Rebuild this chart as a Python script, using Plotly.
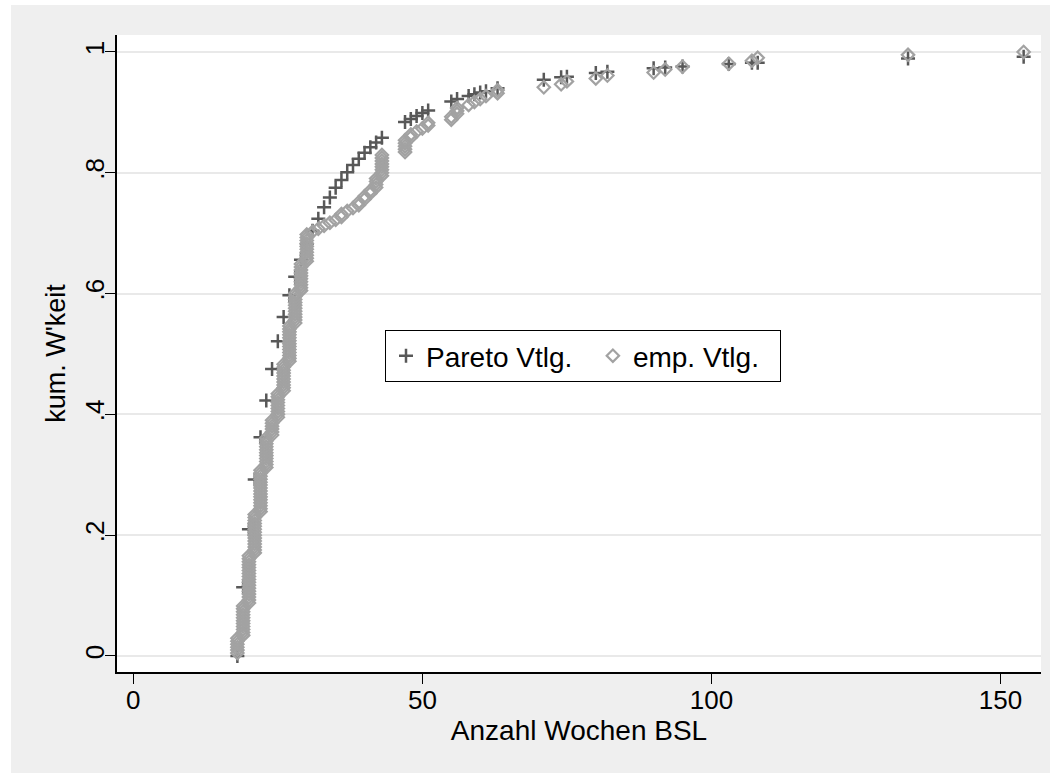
import numpy as np
import plotly.graph_objects as go

# distinct observed durations (weeks)
weeks = [18, 19, 20, 21, 22, 23, 24, 25, 26, 27, 28, 29, 30, 31, 32, 33, 34, 35, 36,
         37, 38, 39, 40, 41, 42, 43, 47, 48, 49, 50, 51, 55, 56, 58, 59, 60, 61, 63,
         71, 74, 75, 80, 82, 90, 92, 95, 103, 107, 108, 134, 154]
# number of observations at each duration
counts = [6, 11, 17, 14, 15, 11, 6, 9, 10, 13, 11, 10, 10, 1, 1, 1, 1, 1, 2,
          1, 1, 2, 2, 2, 4, 8, 5, 2, 1, 1, 2, 2, 3, 1, 1, 1, 1, 2,
          1, 1, 1, 1, 1, 1, 1, 1, 1, 1, 1, 1, 1]
# fitted Pareto cumulative probability at each duration
pareto_cdf = [0.0, 0.114, 0.210, 0.292, 0.362, 0.423, 0.475, 0.521, 0.561, 0.597,
              0.628, 0.656, 0.682, 0.704, 0.724, 0.743, 0.759, 0.775, 0.788, 0.801,
              0.813, 0.823, 0.833, 0.842, 0.850, 0.858, 0.884, 0.889, 0.894, 0.899,
              0.903, 0.918, 0.922, 0.927, 0.930, 0.933, 0.935, 0.940, 0.954, 0.958,
              0.959, 0.965, 0.967, 0.973, 0.974, 0.976, 0.980, 0.982, 0.982, 0.989,
              0.992]

series_names = ["Pareto Vtlg.", "emp. Vtlg."]
y_ticks = [0, 0.2, 0.4, 0.6, 0.8, 1]
y_ticktext = ["0", ".2", ".4", ".6", ".8", "1"]
x_ticks = [0, 50, 100, 150]

# empirical distribution: one point per observation
obs = np.repeat(weeks, counts)
n = len(obs)
emp = np.arange(1, n + 1) / n

FONT = "Liberation Sans, Arial, sans-serif"
NB = "\u00a0"
W, H = 1050, 773
L, R, T, B = 117, 9, 35, 101
pw, ph = W - L - R, H - T - B

fig = go.Figure()
fig.add_trace(go.Scatter(
    x=weeks, y=pareto_cdf, mode="markers", name=series_names[0] + NB * 2,
    marker=dict(symbol="cross-thin", size=10, color="#585858",
                line=dict(color="#585858", width=2.5)),
))
fig.add_trace(go.Scatter(
    x=obs, y=emp, mode="markers", name=series_names[1] + NB * 2,
    marker=dict(symbol="diamond-open", size=9.5, color="#a2a2a2",
                line=dict(color="#a2a2a2", width=2.2)),
))

fig.update_layout(
    width=W, height=H,
    margin=dict(l=L, r=R, t=T, b=B, pad=0),
    paper_bgcolor="#efefef",
    plot_bgcolor="#ffffff",
    font=dict(family=FONT, size=26, color="#000000"),
    showlegend=True,
    legend=dict(
        orientation="h", x=(385 - L) / pw, y=(H - B - 330) / ph,
        xanchor="left", yanchor="top",
        bgcolor="#ffffff", bordercolor="#000000", borderwidth=1,
        font=dict(family=FONT, size=28, color="#000000"),
        itemsizing="trace",
    ),
    xaxis=dict(
        range=[-2.82, 157.0], tickvals=x_ticks, ticks="outside", ticklen=10,
        tickwidth=1, tickcolor="#000000", showline=True, linecolor="#000000",
        linewidth=1.5, showgrid=False, zeroline=False, ticklabelstandoff=-6,
        title=dict(text="Anzahl Wochen BSL", standoff=0,
                   font=dict(family=FONT, size=28)),
        tickfont=dict(family=FONT, size=26),
    ),
    yaxis=dict(
        range=[-0.0265, 1.028], tickvals=y_ticks, ticktext=y_ticktext,
        ticks="outside", ticklen=10, tickwidth=1, tickcolor="#000000",
        tickangle=-90, showline=True, linecolor="#000000", linewidth=1.5,
        showgrid=True, gridcolor="#e9e9e9", gridwidth=2, zeroline=False,
        ticklabelstandoff=-9,
        title=dict(text="kum. W'keit", standoff=6, font=dict(family=FONT, size=27)),
        tickfont=dict(family=FONT, size=26),
    ),
    shapes=[
        dict(type="rect", xref="paper", yref="paper", layer="above",
             x0=-L / pw, x1=(11 - L) / pw, y0=-B / ph, y1=(H - B + 5) / ph,
             fillcolor="#ffffff", line=dict(width=0)),
        dict(type="rect", xref="paper", yref="paper", layer="above",
             x0=-L / pw, x1=(W - L) / pw, y0=(H - B - 5) / ph, y1=(H - B + 5) / ph,
             fillcolor="#ffffff", line=dict(width=0)),
    ],
)

fig.write_html("out.html",
               config={"displayModeBar": False},
               post_script="document.body.style.margin='0px';"
                           "document.body.style.overflow='hidden';")
